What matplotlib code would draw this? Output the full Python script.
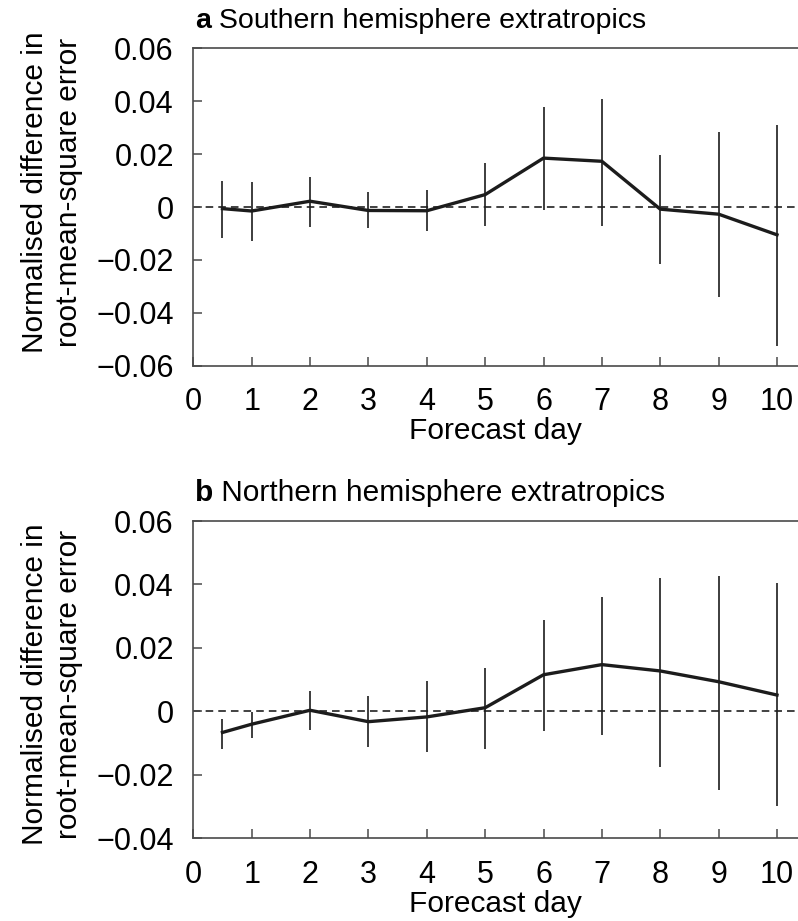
import matplotlib
matplotlib.use("Agg")
import matplotlib.pyplot as plt

plt.rcParams['font.family'] = ['Liberation Sans', 'DejaVu Sans']

# forecast days
days = [0.5, 1, 2, 3, 4, 5, 6, 7, 8, 9, 10]

# panel a: southern hemisphere extratropics
sh_mean = [-0.0006, -0.0015, 0.0022, -0.0013, -0.0014, 0.0047, 0.0185, 0.0173, -0.0008, -0.0027, -0.0105]
sh_hi = [0.0100, 0.0096, 0.0113, 0.0056, 0.0066, 0.0167, 0.0377, 0.0409, 0.0197, 0.0284, 0.0310]
sh_lo = [-0.0118, -0.0128, -0.0075, -0.0078, -0.0091, -0.0070, -0.0013, -0.0070, -0.0215, -0.0339, -0.0525]

# panel b: northern hemisphere extratropics
nh_mean = [-0.0067, -0.0041, 0.0003, -0.0033, -0.0018, 0.0011, 0.0115, 0.0147, 0.0127, 0.0093, 0.0051]
nh_hi = [-0.0024, -0.0001, 0.0065, 0.0047, 0.0094, 0.0135, 0.0287, 0.0360, 0.0420, 0.0427, 0.0406]
nh_lo = [-0.0119, -0.0085, -0.0060, -0.0112, -0.0130, -0.0118, -0.0062, -0.0075, -0.0175, -0.0247, -0.0300]

xticks = list(range(0, 11))
yticks_a = [-0.06, -0.04, -0.02, 0, 0.02, 0.04, 0.06]
yticks_b = [-0.04, -0.02, 0, 0.02, 0.04, 0.06]

line_col = '#1c1c1c'
spine_col = '#4a4a4a'

fig = plt.figure(figsize=(7.98, 9.21), dpi=100)
ax_a = fig.add_axes([0.2422, 0.6029, 0.7578, 0.3446])
ax_b = fig.add_axes([0.2422, 0.0901, 0.7578, 0.3442])


def panel(ax, mean, lo, hi, yticks, letter, title, title_fs, label_y):
    ax.axhline(0, color='#333333', lw=1.3, ls=(0, (4.2, 2.8)), zorder=1)
    ax.vlines(days, lo, hi, color=line_col, lw=1.2, zorder=2)
    ax.plot(days, mean, color=line_col, lw=2.4, zorder=3)
    ax.set_xlim(0, 10.36)
    ax.set_ylim(yticks[0], yticks[-1])
    ax.set_xticks(xticks)
    ax.set_xticklabels([str(d) for d in xticks])
    ax.set_yticks(yticks)
    ax.set_yticklabels(['0' if v == 0 else ('%.2f' % v).replace('-', '\u2212') for v in yticks])
    ax.tick_params(direction='in', length=6.7, width=1.1, color=spine_col, labelsize=22)
    ax.tick_params(axis='x', pad=15.5)
    ax.tick_params(axis='y', pad=14)
    for s in ['left', 'bottom', 'top']:
        ax.spines[s].set_color(spine_col)
        ax.spines[s].set_linewidth(1.2)
    ax.spines['right'].set_visible(False)
    ax.set_xlabel('Forecast day', fontsize=21.5, labelpad=0)
    ax.set_ylabel('Normalised difference in\nroot-mean-square error', fontsize=21.5,
                  linespacing=1.3)
    ax.yaxis.set_label_coords(-0.182, label_y)
    t = ax.text(0.003, 1.063, letter, transform=ax.transAxes, fontsize=title_fs,
                fontweight='bold', va='baseline', ha='left')
    ax.annotate(' ' + title, xy=(1, 0), xycoords=t, fontsize=title_fs,
                va='bottom', ha='left')


panel(ax_a, sh_mean, sh_lo, sh_hi, yticks_a, 'a', 'Southern hemisphere extratropics', 20.5, 0.547)
panel(ax_b, nh_mean, nh_lo, nh_hi, yticks_b, 'b', 'Northern hemisphere extratropics', 21.5, 0.486)

fig.savefig('out.png', dpi=100)
